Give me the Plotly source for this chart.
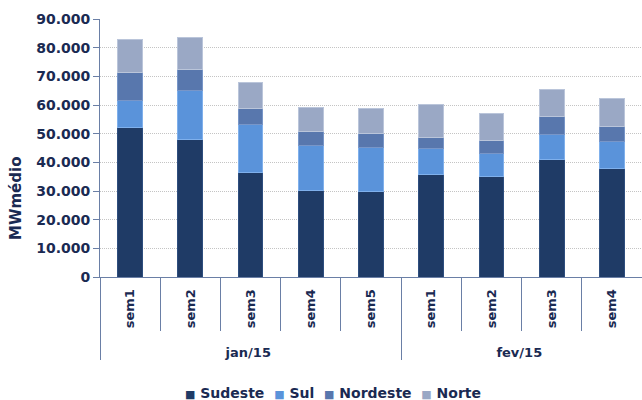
import plotly.graph_objects as go

# Weekly average load by subsystem (MWmédio)
months = ["jan/15"] * 5 + ["fev/15"] * 4
weeks = ["sem1", "sem2", "sem3", "sem4", "sem5", "sem1", "sem2", "sem3", "sem4"]

sudeste = [52200, 48100, 36500, 30300, 30000, 35900, 35200, 41000, 37900]
sul = [9500, 17100, 16600, 15400, 15100, 8900, 7900, 8800, 9500]
nordeste = [9800, 7200, 5700, 4900, 5000, 3700, 4600, 6100, 5200]
norte = [11300, 11000, 9200, 8500, 8700, 11800, 9500, 9500, 9700]

series = [
    ("Sudeste", sudeste, "#1F3B66", "#2E4E7E"),
    ("Sul", sul, "#5A93DA", "#7FB0EC"),
    ("Nordeste", nordeste, "#5877AD", "#7896C8"),
    ("Norte", norte, "#9AA8C5", "#BAC5DA"),
]

navy = "#1A2A52"
axis_col = "#6A7FA6"
font_family = "DejaVu Sans"

# week labels padded so the month row sits lower under the rotated text
pad = "\u00a0\u00a0"
week_labels = [pad + w for w in weeks]

fig = go.Figure()
for name, vals, col, edge in series:
    fig.add_trace(go.Bar(
        name=name,
        x=[months, week_labels],
        y=vals,
        marker=dict(color=col, line=dict(color=edge, width=1)),
        showlegend=False,
    ))

# compact legend row: coloured squares followed by the series names
legend_parts = []
for name, _, col, _ in series:
    legend_parts.append(
        f"<span style='color:{col};font-size:11px'>■</span>\u00a0{name}"
    )
legend_text = "\u00a0\u00a0".join(legend_parts)

fig.add_annotation(
    text=legend_text,
    xref="paper", yref="paper",
    x=(333 - 100) / 542, y=-(393 - 277) / 258,
    xanchor="center", yanchor="middle",
    showarrow=False,
    font=dict(size=14, family=font_family, color=navy, weight="bold"),
)

# y axis title, centred lower than the plot area
fig.add_annotation(
    text="MWmédio",
    xref="paper", yref="paper",
    x=-(100 - 16) / 542, y=-(199 - 277) / 258,
    xanchor="center", yanchor="middle",
    textangle=-90,
    showarrow=False,
    font=dict(size=15, family=font_family, color=navy, weight="bold"),
)

fig.update_layout(
    barmode="stack",
    bargap=0.59,
    width=642,
    height=400,
    margin=dict(l=100, r=0, t=19, b=123),
    paper_bgcolor="white",
    plot_bgcolor="white",
    separators=",.",
    font=dict(family=font_family, color=navy),
    showlegend=False,
)

fig.update_yaxes(
    range=[0, 90000],
    tickvals=[0, 10000, 20000, 30000, 40000, 50000, 60000, 70000, 80000, 90000],
    tickformat=",d",
    tickfont=dict(size=14, family=font_family, color=navy, weight="bold"),
    showgrid=True,
    gridcolor="#C4C4C4",
    griddash="1px,1px",
    gridwidth=1,
    showline=True,
    linecolor=axis_col,
    linewidth=1,
    ticks="outside",
    ticklen=6,
    tickcolor=axis_col,
    zeroline=False,
)

fig.update_xaxes(
    type="multicategory",
    tickangle=-90,
    tickfont=dict(size=13, family=font_family, color=navy, weight="bold"),
    ticklabelstandoff=6,
    showline=True,
    linecolor=axis_col,
    linewidth=1,
    ticks="outside",
    tickson="boundaries",
    ticklen=53,
    tickcolor=axis_col,
    showdividers=True,
    dividercolor=axis_col,
    dividerwidth=1,
    showgrid=False,
)

fig.write_html("out.html")
